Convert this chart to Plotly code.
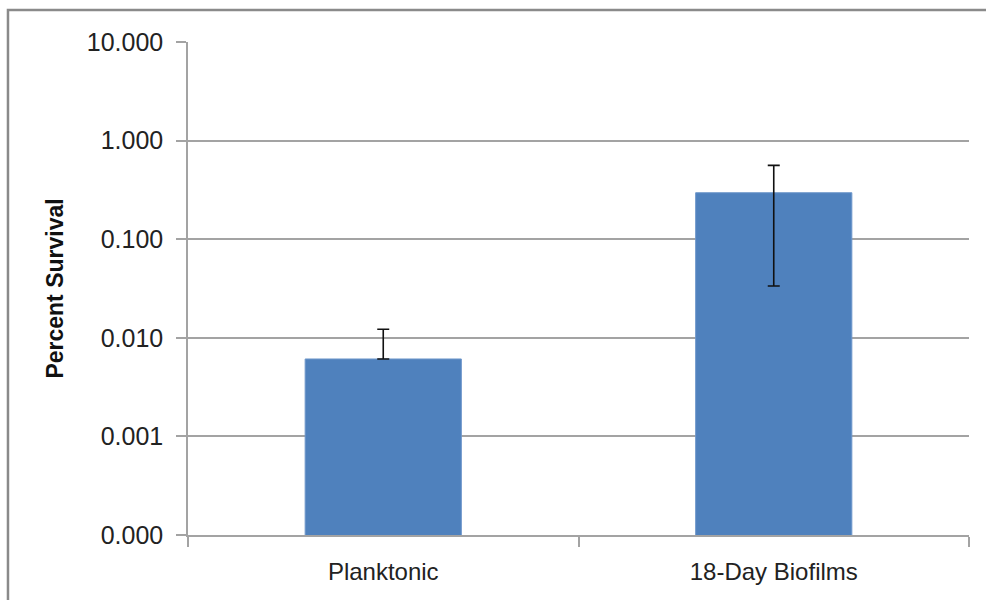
import plotly.graph_objects as go

# Survival data (percent), log-scaled y axis
categories = ["Planktonic", "18-Day Biofilms"]
survival = [0.0061, 0.296]
err_plus = [0.0061, 0.265]
err_minus = [0.0, 0.2625]

y_tickvals = [0.0001, 0.001, 0.01, 0.1, 1, 10]
y_ticktext = ["0.000", "0.001", "0.010", "0.100", "1.000", "10.000"]

FONT = "Liberation Sans, Arial, sans-serif"
GRID = "#a3a3a3"

fig = go.Figure(
    go.Bar(
        x=categories,
        y=survival,
        marker=dict(color="#4f81bd", line=dict(color="#6f98cb", width=1)),
        error_y=dict(
            type="data",
            symmetric=False,
            array=err_plus,
            arrayminus=err_minus,
            color="#111111",
            thickness=1.6,
            width=6,
        ),
        width=0.4,
    )
)

fig.update_layout(
    width=986,
    height=600,
    margin=dict(l=188, r=17, t=42, b=65),
    paper_bgcolor="white",
    plot_bgcolor="white",
    showlegend=False,
    font=dict(family=FONT, size=24, color="#222222"),
    shapes=[
        # outer chart frame
        dict(
            type="rect",
            xref="paper",
            yref="paper",
            x0=-0.2305,
            x1=1.2,
            y0=-0.3,
            y1=1.0649,
            line=dict(color="#8a8a8a", width=2.5),
            fillcolor="rgba(0,0,0,0)",
            layer="below",
        )
    ],
)

fig.update_yaxes(
    type="log",
    range=[-4, 1],
    tickvals=y_tickvals,
    ticktext=y_ticktext,
    ticks="outside",
    ticklen=10,
    tickwidth=1.5,
    tickcolor=GRID,
    ticklabelstandoff=8,
    showgrid=True,
    gridcolor=GRID,
    gridwidth=1.5,
    showline=True,
    linecolor=GRID,
    linewidth=1.5,
    tickfont=dict(size=25, color="#222222"),
    title=dict(
        text="<b>Percent Survival</b>",
        font=dict(size=23, color="#111111"),
        standoff=17,
    ),
    automargin=False,
)

fig.update_xaxes(
    type="category",
    tickson="boundaries",
    ticks="outside",
    ticklen=10,
    tickwidth=1.5,
    tickcolor=GRID,
    ticklabelstandoff=14,
    showline=True,
    linecolor=GRID,
    linewidth=1.5,
    showgrid=False,
    tickfont=dict(size=24, color="#222222"),
    automargin=False,
)

fig.write_html("out.html")
